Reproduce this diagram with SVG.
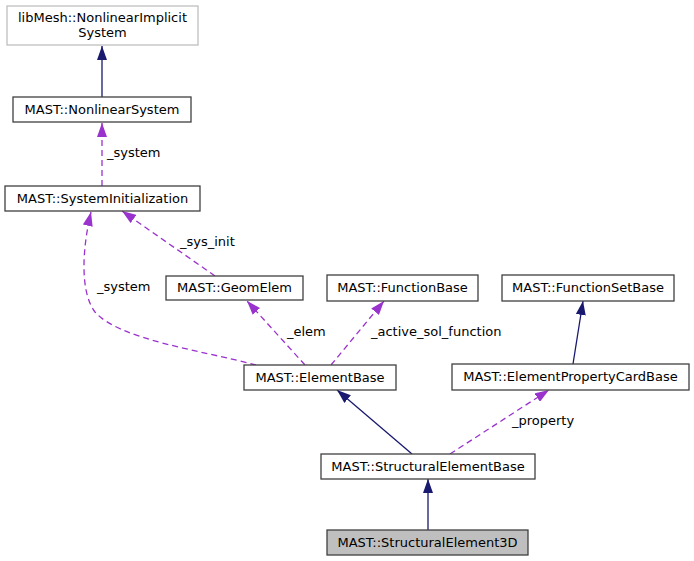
<svg xmlns="http://www.w3.org/2000/svg" width="694" height="561" viewBox="0 0 694 561">
<defs>
<style>
.n rect{fill:#ffffff;stroke:#404040;stroke-width:1.3}
.n text,.lbl{font-family:"DejaVu Sans",sans-serif;font-size:13px;fill:#000000}
.n text{text-anchor:middle}
.inh{fill:none;stroke:#191970;stroke-width:1.3}
.use{fill:none;stroke:#9a32cd;stroke-width:1.3;stroke-dasharray:6,4}
</style>
<marker id="ab" viewBox="0 0 14 10" refX="14" refY="5" markerWidth="14" markerHeight="10" markerUnits="userSpaceOnUse" orient="auto">
<path d="M0,0 L14,5 L0,10 z" fill="#191970"/>
</marker>
<marker id="ap" viewBox="0 0 14 10" refX="14" refY="5" markerWidth="14" markerHeight="10" markerUnits="userSpaceOnUse" orient="auto">
<path d="M0,0 L14,5 L0,10 z" fill="#9a32cd"/>
</marker>
</defs>
<rect width="694" height="561" fill="#ffffff"/>
<g id="connectors">
<path class="inh" d="M102,97 L102,46" marker-end="url(#ab)"/>
<path class="use" d="M102,186 L102,123" marker-end="url(#ap)"/>
<text class="lbl" x="107" y="157">_system</text>
<path class="use" d="M215,276 L122,211" marker-end="url(#ap)"/>
<text class="lbl" x="180" y="246">_sys_init</text>
<path class="use" d="M256,365 C200,350 120,340 95,312 C80,292 82,250 91,212" marker-end="url(#ap)"/>
<text class="lbl" x="97" y="291">_system</text>
<path class="use" d="M305,365 L247,301" marker-end="url(#ap)"/>
<text class="lbl" x="287" y="336">_elem</text>
<path class="use" d="M331,365 L384,301" marker-end="url(#ap)"/>
<text class="lbl" x="371" y="336">_active_sol_function</text>
<path class="inh" d="M573,364 L583,301" marker-end="url(#ab)"/>
<path class="inh" d="M412,454 L337,390" marker-end="url(#ab)"/>
<path class="use" d="M450,454 L549,390" marker-end="url(#ap)"/>
<text class="lbl" x="512" y="425">_property</text>
<path class="inh" d="M428,530 L428,479" marker-end="url(#ab)"/>
</g>
<g id="node-libmesh" class="n">
<rect x="7" y="6" width="191" height="39" style="stroke:#bfbfbf"/>
<text x="102.5" y="22">libMesh::NonlinearImplicit</text>
<text x="102.5" y="37">System</text>
</g>
<g id="node-nonlinearsystem" class="n">
<rect x="13" y="97" width="178" height="25"/>
<text x="102" y="114">MAST::NonlinearSystem</text>
</g>
<g id="node-systeminit" class="n">
<rect x="5" y="186" width="195" height="25"/>
<text x="102.5" y="203">MAST::SystemInitialization</text>
</g>
<g id="node-geomelem" class="n">
<rect x="166" y="276" width="137" height="24"/>
<text x="234.5" y="292">MAST::GeomElem</text>
</g>
<g id="node-functionbase" class="n">
<rect x="327" y="275" width="151" height="26"/>
<text x="402.5" y="292">MAST::FunctionBase</text>
</g>
<g id="node-functionsetbase" class="n">
<rect x="502" y="275" width="172" height="26"/>
<text x="588" y="292">MAST::FunctionSetBase</text>
</g>
<g id="node-elementbase" class="n">
<rect x="244" y="365" width="152" height="25"/>
<text x="320" y="382">MAST::ElementBase</text>
</g>
<g id="node-elementpropertycardbase" class="n">
<rect x="452" y="364" width="237" height="26"/>
<text x="570.5" y="381">MAST::ElementPropertyCardBase</text>
</g>
<g id="node-structuralelementbase" class="n">
<rect x="321" y="454" width="214" height="25"/>
<text x="428" y="471">MAST::StructuralElementBase</text>
</g>
<g id="node-structuralelement3d" class="n">
<rect x="327" y="530" width="201" height="25" style="fill:#bfbfbf"/>
<text x="427.5" y="547">MAST::StructuralElement3D</text>
</g>
</svg>
